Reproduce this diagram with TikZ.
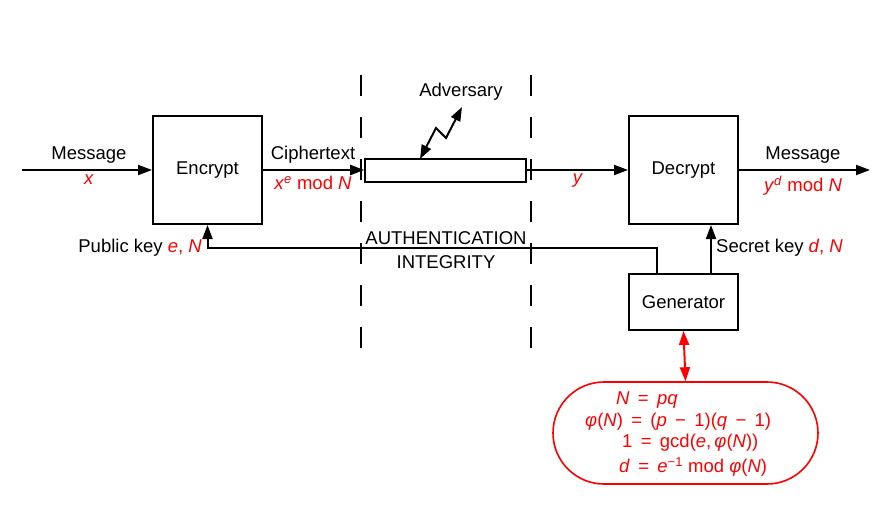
\documentclass[tikz,border=0pt]{standalone}
\usepackage{fontspec}
\setmainfont{Liberation Sans}
\usetikzlibrary{arrows.meta}
\newcommand\opsp[1]{\hspace{0.28em}#1\hspace{0.28em}}
\newcommand\opsw[1]{\hspace{0.45em}#1\hspace{0.45em}}
\begin{document}
\begin{tikzpicture}[x=1pt,y=-1pt,
  font=\fontsize{18.5}{22}\selectfont,
  blk/.style={draw, line width=2pt, inner sep=0pt},
  arr/.style={line width=2pt, -{Triangle[length=14pt,width=10pt]}},
  dbl/.style={line width=2pt, {Triangle[length=14pt,width=10pt]}-{Triangle[length=14pt,width=10pt]}},
  lbl/.style={inner sep=1pt},
  rlbl/.style={inner sep=1pt, text=red},
  sep/.style={line width=1.3pt, dash pattern=on 21pt off 21pt}]
\useasboundingbox (0,0) rectangle (891,527);
% boxes
\node[blk, minimum width=109pt, minimum height=108pt] (enc) at (207.5,170) {Encrypt};
\node[blk, minimum width=109pt, minimum height=108pt] (dec) at (683.5,170) {Decrypt};
\node[blk, minimum width=109pt, minimum height=56pt] (gen) at (683.5,302) {Generator};
\node[draw, line width=1.6pt, minimum width=161pt, minimum height=23pt, inner sep=0pt] (ch) at (445.5,170.5) {};
\node[draw=red, line width=1.6pt, rounded corners=51pt, minimum width=265pt, minimum height=102pt, inner sep=0pt] (form) at (685.5,433) {};
% separators
\coordinate (s1a) at (361,75); \coordinate (s1b) at (361,350);
\coordinate (s2a) at (531,75); \coordinate (s2b) at (531,350);
\draw[sep] (s1a) -- (s1b);
\draw[sep] (s2a) -- (s2b);
% main flow
\coordinate (in) at (22,170);
\coordinate (out) at (870,170);
\draw[arr] (in) -- (enc.west);
\draw[arr] (enc.east) -- (ch.west |- enc.east);
\draw[arr] (ch.east |- dec.west) -- (dec.west);
\draw[arr] (dec.east) -- (out);
% keys
\draw[arr] ([xshift=-26.5pt]gen.north) -- ++(0,-25) -| (enc.south);
\draw[arr] ([xshift=27.5pt]gen.north) -- ([xshift=27.5pt]dec.south);
% generator to formulas
\draw[dbl, red] (gen.south) -- (form.north);
% adversary
\node[lbl] (adv) at (461,92) {Adversary};
\coordinate (z1) at (420,159);
\coordinate (z2) at (436,128);
\coordinate (z3) at (446,138);
\coordinate (z4) at (462,107);
\draw[dbl] (z1) -- (z2) -- (z3) -- (z4);
% labels
\node[lbl] (m1) at (89,155) {Message};
\node[rlbl] (x1) at (89,180) {\textit{x}};
\node[lbl] (ct) at (313,155) {Ciphertext};
\node[rlbl] (xe) at (313,183) {\textit{x}\textsuperscript{\textit{e}}\opsp{mod}\textit{N}};
\node[rlbl] (y1) at (578,181) {\textit{y}};
\node[lbl] (m2) at (803,155) {Message};
\node[rlbl] (yd) at (803,186) {\textit{y}\textsuperscript{\textit{d}}\opsp{mod}\textit{N}};
\node[lbl, anchor=east] (pk) at (203,248) {Public key \textcolor{red}{\textit{e}, \textit{N}}};
\node[lbl, anchor=west] (sk) at (715,248) {Secret key \textcolor{red}{\textit{d}, \textit{N}}};
\node[lbl] (au) at (446,238) {AUTHENTICATION};
\node[lbl] (ig) at (446,262) {INTEGRITY};
% formulas
\node[rlbl, anchor=west] (f1) at (615,400) {\textit{N}\opsw{=}\textit{pq}};
\node[rlbl, anchor=west] (f2) at (584,422) {\textit{φ}(\textit{N})\opsw{=}(\textit{p}\opsw{−}1)(\textit{q}\opsw{−}1)};
\node[rlbl, anchor=west] (f3) at (621,443) {1\opsw{=}gcd(\textit{e},\,\textit{φ}(\textit{N}))};
\node[rlbl, anchor=west] (f4) at (618,467) {\textit{d}\opsw{=}\textit{e}\textsuperscript{−1}\opsp{mod}\textit{φ}(\textit{N})};
\end{tikzpicture}
\end{document}
